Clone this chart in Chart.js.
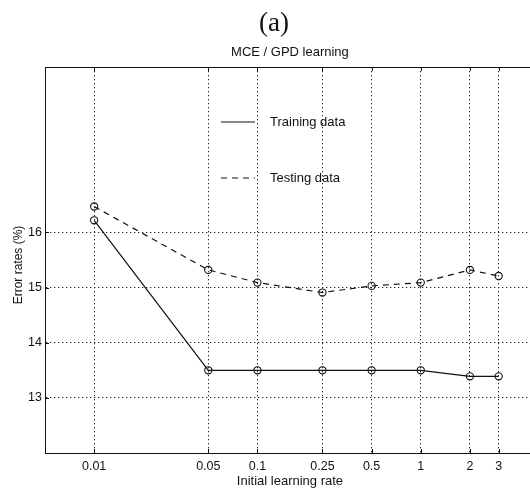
<!DOCTYPE html>
<html>
<head>
<meta charset="utf-8">
<style>
  html, body { margin: 0; padding: 0; background: #fff; overflow: hidden; }
  #wrap { width: 540px; height: 494px; }
</style>
<script src="https://cdn.jsdelivr.net/npm/chart.js@4/dist/chart.umd.min.js"></script>
</head>
<body>
<div id="wrap"><canvas id="c" width="540" height="494"></canvas></div>
<script>
// Initial learning rates (log axis) and the error rates measured for each
const rates = [0.01, 0.05, 0.1, 0.25, 0.5, 1, 2, 3];
const rateLabels = ['0.01', '0.05', '0.1', '0.25', '0.5', '1', '2', '3'];
const trainingErr = [16.22, 13.5, 13.5, 13.5, 13.5, 13.5, 13.39, 13.39];
const testingErr = [16.47, 15.32, 15.09, 14.91, 15.03, 15.09, 15.32, 15.21];
const errorTicks = [13, 14, 15, 16];

const panelLabel = '(a)';
const chartTitle = 'MCE / GPD learning';
const xTitle = 'Initial learning rate';
const yTitle = 'Error rates (%)';
const seriesNames = ['Training data', 'Testing data'];

const SANS = '"Liberation Sans", Arial, Helvetica, sans-serif';
const INK = '#111';

const toPoints = (ys) => rates.map((r, i) => ({ x: r, y: ys[i] }));

// Panel label, title, y-axis title, box edges, inward tick marks and in-plot legend
const decorations = {
  id: 'decorations',
  afterDatasetsDraw(chart) {
    const { ctx, chartArea: a, scales } = chart;
    ctx.save();
    ctx.fillStyle = INK;
    ctx.textAlign = 'center';
    ctx.textBaseline = 'alphabetic';
    ctx.font = '27px "Liberation Serif", "Times New Roman", serif';
    ctx.fillText(panelLabel, 274, 30.5);
    ctx.font = '13px ' + SANS;
    ctx.fillText(chartTitle, (a.left + a.right) / 2, 56);

    // vertical axis title
    ctx.save();
    ctx.translate(18.5, 265);
    ctx.rotate(-Math.PI / 2);
    ctx.textBaseline = 'middle';
    ctx.font = '12px ' + SANS;
    ctx.fillText(yTitle, 0, 0);
    ctx.restore();

    // top edge of the box
    ctx.strokeStyle = INK;
    ctx.lineWidth = 1;
    ctx.beginPath();
    ctx.moveTo(a.left, Math.round(a.top) + 0.5);
    ctx.lineTo(a.right, Math.round(a.top) + 0.5);
    ctx.stroke();

    // short inward tick marks
    ctx.beginPath();
    scales.x.ticks.forEach(t => {
      const px = Math.round(scales.x.getPixelForValue(t.value)) + 0.5;
      ctx.moveTo(px, a.bottom); ctx.lineTo(px, a.bottom - 4);
      ctx.moveTo(px, a.top); ctx.lineTo(px, a.top + 4);
    });
    scales.y.ticks.forEach(t => {
      const py = Math.round(scales.y.getPixelForValue(t.value)) + 0.5;
      ctx.moveTo(a.left, py); ctx.lineTo(a.left + 4, py);
    });
    ctx.stroke();

    // legend inside the plot
    const rows = [122, 178];
    chart.data.datasets.forEach((ds, i) => {
      const y = rows[i];
      ctx.beginPath();
      ctx.setLineDash(ds.borderDash || []);
      ctx.lineWidth = ds.borderWidth;
      ctx.strokeStyle = ds.borderColor;
      ctx.moveTo(221, y);
      ctx.lineTo(255, y);
      ctx.stroke();
      ctx.setLineDash([]);
      ctx.font = '13px ' + SANS;
      ctx.textAlign = 'left';
      ctx.textBaseline = 'middle';
      ctx.fillStyle = INK;
      ctx.fillText(ds.label, 270, y);
    });
    ctx.restore();
  }
};

// dotted grid lines (Chart.js v4 takes the grid dash from border.dash)
const grid = { color: '#222', lineWidth: 1, drawTicks: false };
const border = { display: true, color: INK, width: 1, dash: [1.3, 2.7] };

const seriesStyle = {
  borderColor: INK,
  borderWidth: 1.2,
  pointStyle: 'circle',
  pointRadius: 3.6,
  pointBorderWidth: 1.1,
  pointBorderColor: INK,
  pointBackgroundColor: 'rgba(255,255,255,0)',
  tension: 0,
};

new Chart(document.getElementById('c'), {
  type: 'line',
  data: {
    datasets: [
      Object.assign({ label: seriesNames[0], data: toPoints(trainingErr) }, seriesStyle),
      Object.assign({ label: seriesNames[1], data: toPoints(testingErr), borderDash: [6, 5] }, seriesStyle),
    ]
  },
  options: {
    responsive: false,
    animation: false,
    devicePixelRatio: 1,
    layout: { padding: { top: 67, left: 0, right: 4, bottom: 0 } },
    plugins: {
      legend: { display: false },
      title: { display: false },
      tooltip: { enabled: false },
    },
    scales: {
      x: {
        type: 'logarithmic',
        min: 0.005,
        max: 5,
        afterBuildTicks: (s) => { s.ticks = rates.map(v => ({ value: v })); },
        afterFit: (s) => { s.height = 41; },
        grid: grid,
        border: border,
        ticks: {
          autoSkip: false,
          maxRotation: 0,
          padding: 6,
          color: INK,
          font: { family: SANS, size: 12.5 },
          callback: (v) => { const i = rates.indexOf(v); return i >= 0 ? rateLabels[i] : ''; },
        },
        title: {
          display: true,
          text: xTitle,
          color: INK,
          font: { family: SANS, size: 13 },
          padding: { top: 0, bottom: 5 },
        },
      },
      y: {
        type: 'linear',
        min: 12,
        max: 19,
        afterBuildTicks: (s) => { s.ticks = errorTicks.map(v => ({ value: v })); },
        afterFit: (s) => { s.width = 45; },
        grid: grid,
        border: border,
        ticks: {
          padding: 3,
          color: INK,
          font: { family: SANS, size: 12.5 },
          callback: (v) => String(v),
        },
        title: { display: false },
      }
    }
  },
  plugins: [decorations]
});
</script>
</body>
</html>
